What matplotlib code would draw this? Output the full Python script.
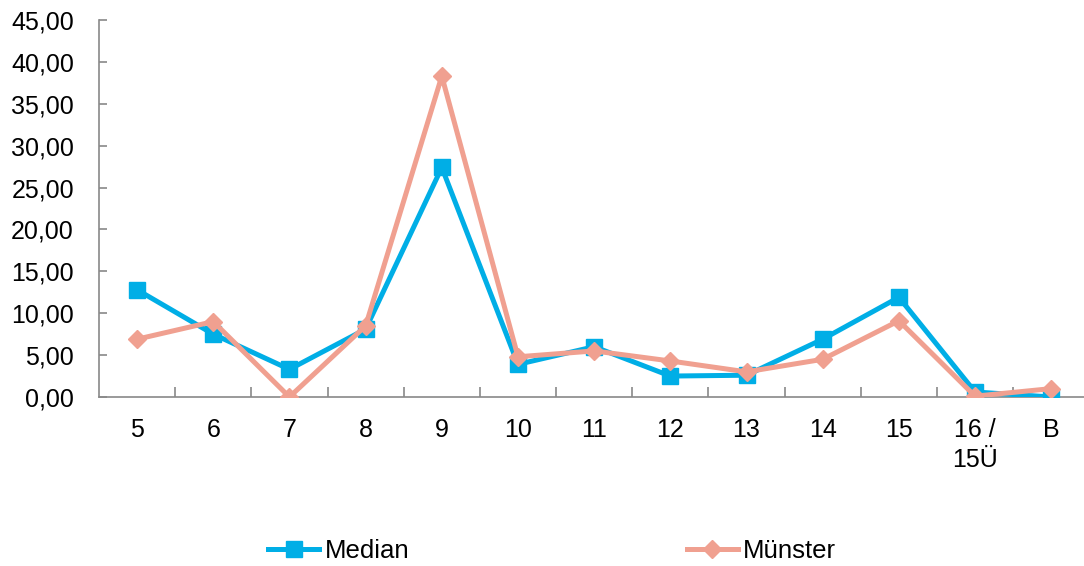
import matplotlib.pyplot as plt
from matplotlib.ticker import FuncFormatter

plt.rcParams["font.family"] = ["Liberation Sans", "DejaVu Sans"]

kategorien = ["5", "6", "7", "8", "9", "10", "11", "12", "13", "14", "15", "16 /\n15Ü", "B"]
median = [12.8, 7.5, 3.3, 8.1, 27.4, 3.9, 6.0, 2.5, 2.6, 6.9, 11.9, 0.6, 0.0]
muenster = [6.9, 9.0, 0.0, 8.5, 38.3, 4.8, 5.5, 4.3, 3.0, 4.5, 9.1, 0.1, 1.0]

blau = "#00AEE6"
lachs = "#F0A090"
grau = "#898989"

fig = plt.figure(figsize=(10.84, 5.66), dpi=100)
ax = fig.add_axes([99 / 1084, 169 / 566, 985 / 1084, 377 / 566])

x = list(range(len(kategorien)))
ax.plot(x, median, color=blau, lw=3.6, marker="s", ms=11, label="Median", zorder=3)
ax.plot(x, muenster, color=lachs, lw=3.6, marker="D", ms=9.5, label="Münster", zorder=4)

ax.set_ylim(0, 45)
ax.set_yticks(range(0, 46, 5))
ax.yaxis.set_major_formatter(FuncFormatter(lambda v, p: f"{v:.2f}".replace(".", ",")))
ax.set_xlim(-0.5, 12.43)
ax.set_xticks(x)
ax.set_xticklabels(kategorien)
ax.set_xticks([i + 0.5 for i in range(12)], minor=True)

for s in ["top", "right"]:
    ax.spines[s].set_visible(False)
for s in ["left", "bottom"]:
    ax.spines[s].set_color(grau)
    ax.spines[s].set_linewidth(1.2)

ax.tick_params(axis="x", which="major", length=0, labelsize=18, pad=15)
ax.tick_params(axis="x", which="minor", direction="in", length=7, color=grau, width=1.2)
ax.tick_params(axis="y", direction="in", length=6, color=grau, width=1.2, labelsize=18, pad=18)
for lbl in ax.get_xticklabels():
    lbl.set_verticalalignment("top")
    lbl.set_linespacing(1.35)

fig.legend(loc="center", bbox_to_anchor=(552 / 1084, 1 - 551 / 566), ncol=2, frameon=False,
           fontsize=18.5, columnspacing=10.8, handlelength=2.0, handletextpad=0.2)

fig.savefig("out.png", dpi=100)
